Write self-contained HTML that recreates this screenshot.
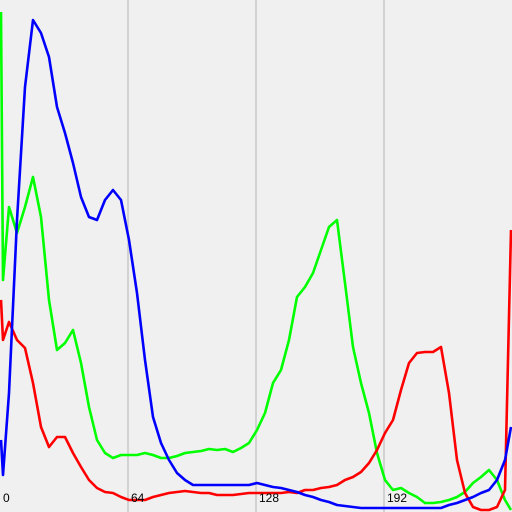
<!DOCTYPE html>
<html><head><meta charset="utf-8">
<style>
html,body{margin:0;padding:0;background:#f0f0f0;}
svg{display:block;}
text{font-family:"Liberation Sans",sans-serif;font-size:12px;fill:#000;}
</style></head>
<body>
<svg id="chart" width="512" height="512" viewBox="0 0 512 512">
<rect x="0" y="0" width="512" height="512" fill="#f0f0f0"/>
<g id="grid"></g>
<g id="series"></g>
<g id="ticks"></g>
</svg>
<script>
// bin positions: 0, 1, then every 4 bins, then 255
const bins = [0,1,4,8,12,16,20,24,28,32,36,40,44,48,52,56,60,64,68,72,76,80,84,88,92,96,100,104,108,112,116,120,124,128,132,136,140,144,148,152,156,160,164,168,172,176,180,184,188,192,196,200,204,208,212,216,220,224,228,232,236,240,244,248,252,255];
// heights (counts scaled 0..512)
const blueVals = [72,37,119,292,425,492,479,455,405,379,349,315,295,292,312,322,312,272,219,152,95,69,52,39,32,27,27,27,27,27,27,27,27,29,27,25,24,22,20,17,15,12,10,7,6,5,4,4,4,4,4,4,4,4,4,4,4,7,9,12,15,19,22,32,52,85];
const greenVals = [500,232,305,279,305,335,295,212,162,169,182,149,105,72,59,54,57,57,57,59,57,54,54,56,59,60,61,63,62,63,60,64,69,82,99,129,142,172,215,225,239,262,285,292,229,165,129,99,59,32,22,24,19,15,9,9,10,12,15,20,29,35,42,32,12,2];
const redVals = [212,172,190,172,164,129,85,65,75,75,59,45,32,24,20,19,15,12,12,12,15,17,19,20,21,20,19,19,17,17,17,18,19,19,19,19,19,20,19,22,22,24,25,27,32,35,40,49,62,79,92,122,149,159,160,160,165,119,52,19,5,2,2,5,22,282];
const tickLabels=['0','64','128','192'];
const tickBins=[0,64,128,192];

const W=512,H=512;
const xScale = b => b*2 + 1;
const yScale = v => H - v;
const NS='http://www.w3.org/2000/svg';

const grid=document.getElementById('grid');
[64,128,192].forEach(g=>{
  const l=document.createElementNS(NS,'line');
  
  
  l.setAttribute('x1',g*2);l.setAttribute('x2',g*2);
  l.setAttribute('y1',0);l.setAttribute('y2',H);
  l.setAttribute('stroke','#c8c8c8');l.setAttribute('stroke-width','1.5');
  grid.appendChild(l);
});

const series=document.getElementById('series');
function draw(name,vals,color){
  const p=document.createElementNS(NS,'polyline');
  
  
  p.setAttribute('points',vals.map((v,i)=>xScale(bins[i])+','+yScale(v)).join(' '));
  p.setAttribute('fill','none');p.setAttribute('stroke',color);
  p.setAttribute('stroke-width','2.6');p.setAttribute('stroke-linejoin','round');
  series.appendChild(p);
}
draw('green-channel-line',greenVals,'#00ff00');
draw('red-channel-line',redVals,'#ff0000');
draw('blue-channel-line',blueVals,'#0000ff');

const ticks=document.getElementById('ticks');
tickLabels.forEach((t,i)=>{
  const tx=document.createElementNS(NS,'text');
  
  
  tx.setAttribute('x',tickBins[i]*2+3);tx.setAttribute('y',502);
  tx.textContent=t;
  ticks.appendChild(tx);
});
</script>
</body></html>
